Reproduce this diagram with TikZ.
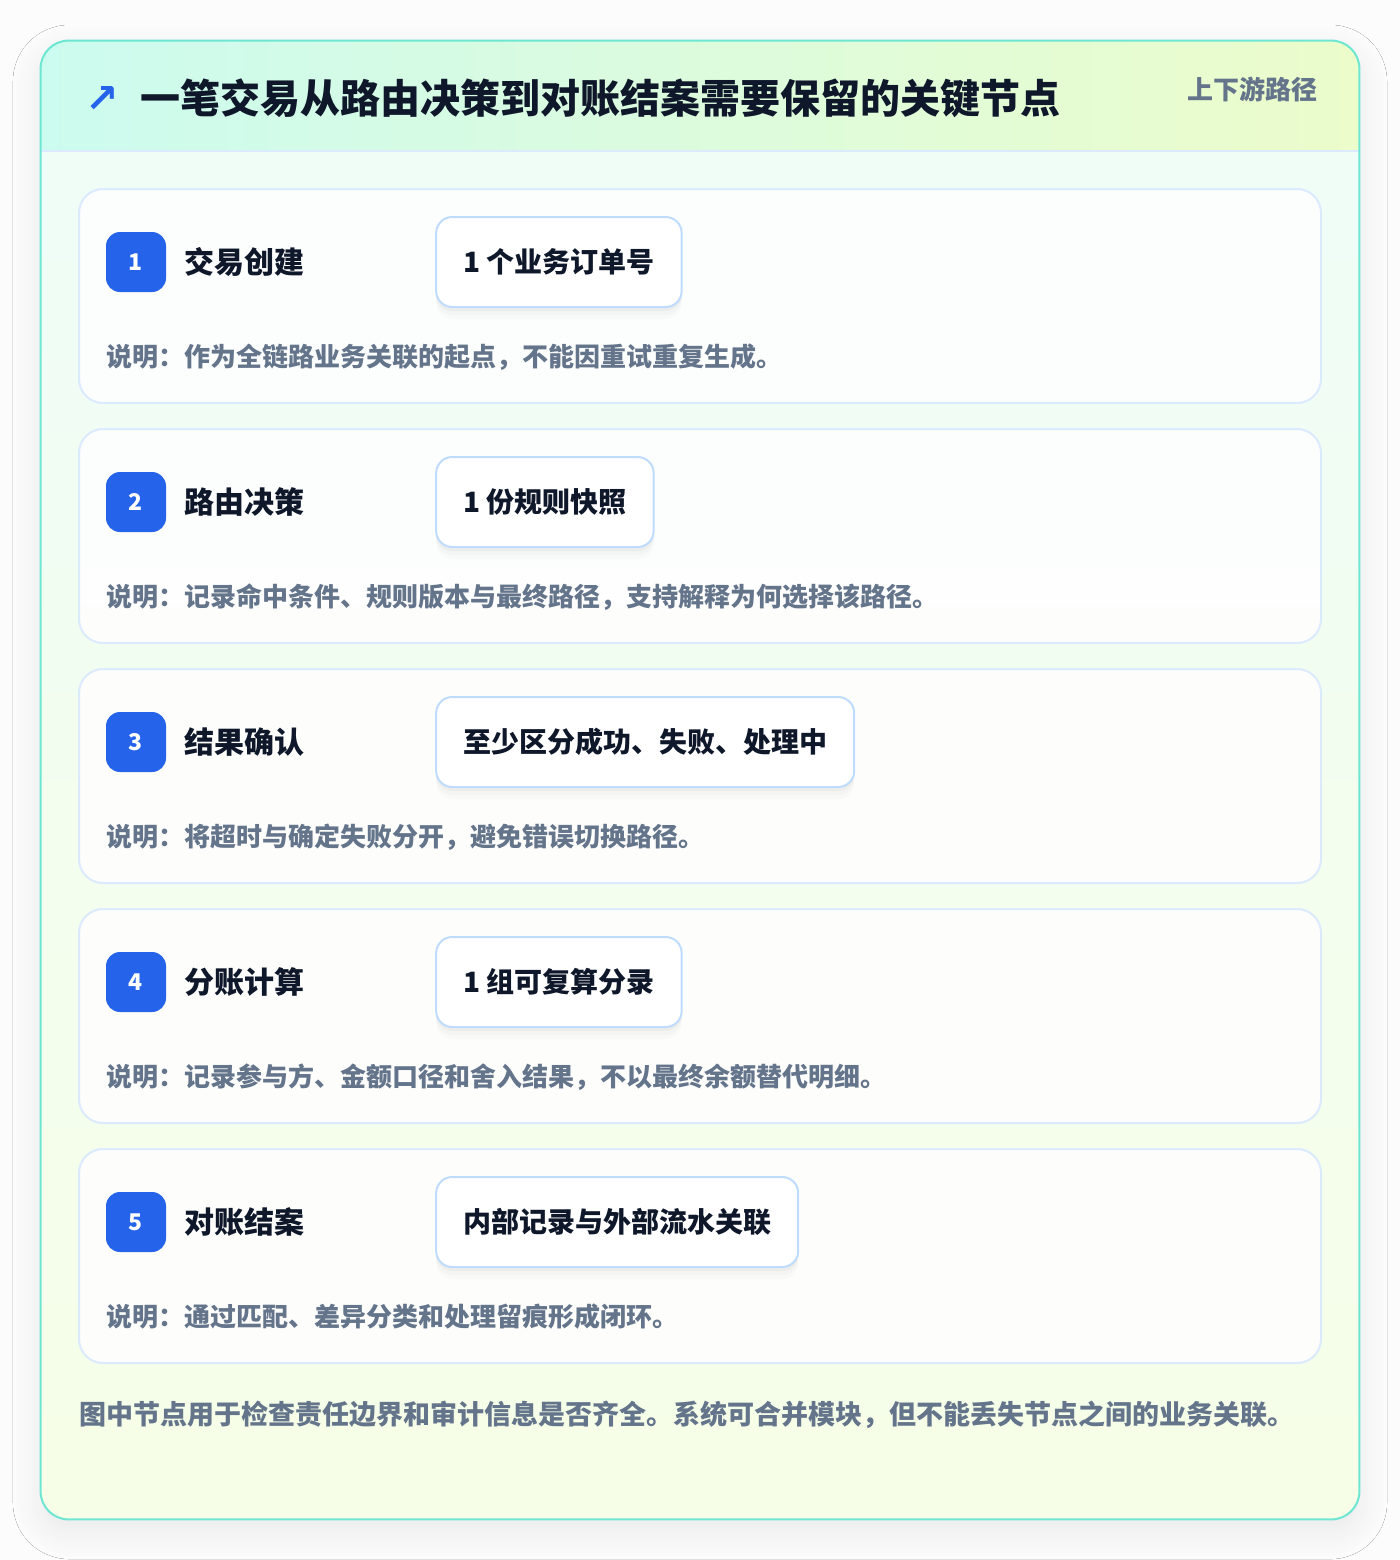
\documentclass[tikz,border=0pt]{standalone}
\usepackage{fontspec}
\setmainfont{Noto Sans CJK SC}
\newfontfamily\arrowfont{DejaVu Sans}
\usetikzlibrary{positioning,shadows.blur}

\definecolor{pagebg}{HTML}{FCFCFD}
\definecolor{rim}{HTML}{6EE7D2}
\definecolor{headl}{HTML}{CCFBEF}
\definecolor{headr}{HTML}{ECFCCB}
\definecolor{bodytop}{HTML}{EFFDF8}
\definecolor{bodybot}{HTML}{F6FEE7}
\definecolor{line}{HTML}{DBEAFE}
\definecolor{pillrim}{HTML}{BFDBFE}
\definecolor{accent}{HTML}{2563EB}
\definecolor{ink}{HTML}{0F172A}
\definecolor{muted}{HTML}{64748B}

\newcommand{\sizept}[2]{\fontsize{#1pt}{#2pt}\selectfont}

\begin{document}
\begin{tikzpicture}
        [ x = .5pt, y = -.5pt
        , panel/.style =
          { rounded corners=14pt, minimum width=659pt, minimum height=739pt, inner sep=0pt
          , top color=bodytop, bottom color=bodybot
          , blur shadow={shadow xshift=0pt, shadow yshift=-6pt, shadow blur radius=14pt, shadow blur steps=14, shadow opacity=8} }
        , card/.style =
          { draw=line, line width=1pt, fill=white, fill opacity=.85, rounded corners=12pt
          , minimum width=621pt, minimum height=107pt, inner sep=0pt }
        , badge/.style =
          { fill=accent, rounded corners=7pt, minimum size=30pt, inner sep=0pt
          , text=white, font=\sizept{11.5}{13}\bfseries }
        , steptitle/.style =
          { inner sep=0pt, text=ink, font=\sizept{15}{18}\bfseries }
        , pill/.style =
          { draw=pillrim, line width=1pt, fill=white, rounded corners=8pt
          , minimum height=45pt, inner xsep=13.5pt, inner ysep=0pt
          , text=ink, font=\sizept{14}{17}\bfseries
          , preaction={fill=black, fill opacity=.03, draw=none, transform canvas={yshift=-2pt}}
          , preaction={fill=black, fill opacity=.02, draw=none, transform canvas={yshift=-4pt}}
          , preaction={fill=black, fill opacity=.015, draw=none, transform canvas={yshift=-6pt}} }
        , note/.style =
          { anchor=west, inner sep=0pt, text=muted, font=\sizept{13}{16}\bfseries }
        ]
        \useasboundingbox [fill=pagebg] (0,0) rectangle (1400,1560);

        % outer panel and header band
        \node [panel] (panel) at (700,780) {};
        \begin{scope}
          \clip [rounded corners=14pt] (panel.north west) rectangle (panel.south east);
          \shade [left color=headl, right color=headr] (panel.north west) rectangle (1359,151);
        \end{scope}
        \draw [line, line width=1pt] (panel.west |- 0,151) -- (panel.east |- 0,151);
        \draw [rim, line width=1pt, rounded corners=14pt] (panel.north west) rectangle (panel.south east);

        \node [anchor=west, inner sep=0pt, text=ink, font=\sizept{20}{24}\bfseries] (head) at (140,98) {一笔交易从路由决策到对账结案需要保留的关键节点};
        \node [inner sep=0pt, text=accent, font=\arrowfont\sizept{20}{22}\bfseries] (icon) at (102,99) {↗};
        \node [anchor=east, inner sep=0pt, text=muted, font=\sizept{13}{16}\bfseries] (tag) at (1318,89) {上下游路径};

        % step 1
        \node [card] (c1) at (700,296) {};
        \node [badge] (b1) at (136,262) {1};
        \node [steptitle] (t1) [right=9pt of b1] {交易创建};
        \node [pill] (p1) [right=65pt of t1] {1 个业务订单号};
        \node [note] (d1) at (106,357) {说明：作为全链路业务关联的起点，不能因重试重复生成。};

        % step 2
        \node [card] (c2) at (700,536) {};
        \node [badge] (b2) at (136,502) {2};
        \node [steptitle] (t2) [right=9pt of b2] {路由决策};
        \node [pill] (p2) [right=65pt of t2] {1 份规则快照};
        \node [note] (d2) at (106,597) {说明：记录命中条件、规则版本与最终路径，支持解释为何选择该路径。};

        % step 3
        \node [card] (c3) at (700,776) {};
        \node [badge] (b3) at (136,742) {3};
        \node [steptitle] (t3) [right=9pt of b3] {结果确认};
        \node [pill] (p3) [right=65pt of t3] {至少区分成功、失败、处理中};
        \node [note] (d3) at (106,837) {说明：将超时与确定失败分开，避免错误切换路径。};

        % step 4
        \node [card] (c4) at (700,1016) {};
        \node [badge] (b4) at (136,982) {4};
        \node [steptitle] (t4) [right=9pt of b4] {分账计算};
        \node [pill] (p4) [right=65pt of t4] {1 组可复算分录};
        \node [note] (d4) at (106,1077) {说明：记录参与方、金额口径和舍入结果，不以最终余额替代明细。};

        % step 5
        \node [card] (c5) at (700,1256) {};
        \node [badge] (b5) at (136,1222) {5};
        \node [steptitle] (t5) [right=9pt of b5] {对账结案};
        \node [pill] (p5) [right=65pt of t5] {内部记录与外部流水关联};
        \node [note] (d5) at (106,1317) {说明：通过匹配、差异分类和处理留痕形成闭环。};

        \node [note, font=\sizept{13.5}{16}\bfseries] (foot) at (79,1415) {图中节点用于检查责任边界和审计信息是否齐全。系统可合并模块，但不能丢失节点之间的业务关联。};
      \end{tikzpicture}
\end{document}
